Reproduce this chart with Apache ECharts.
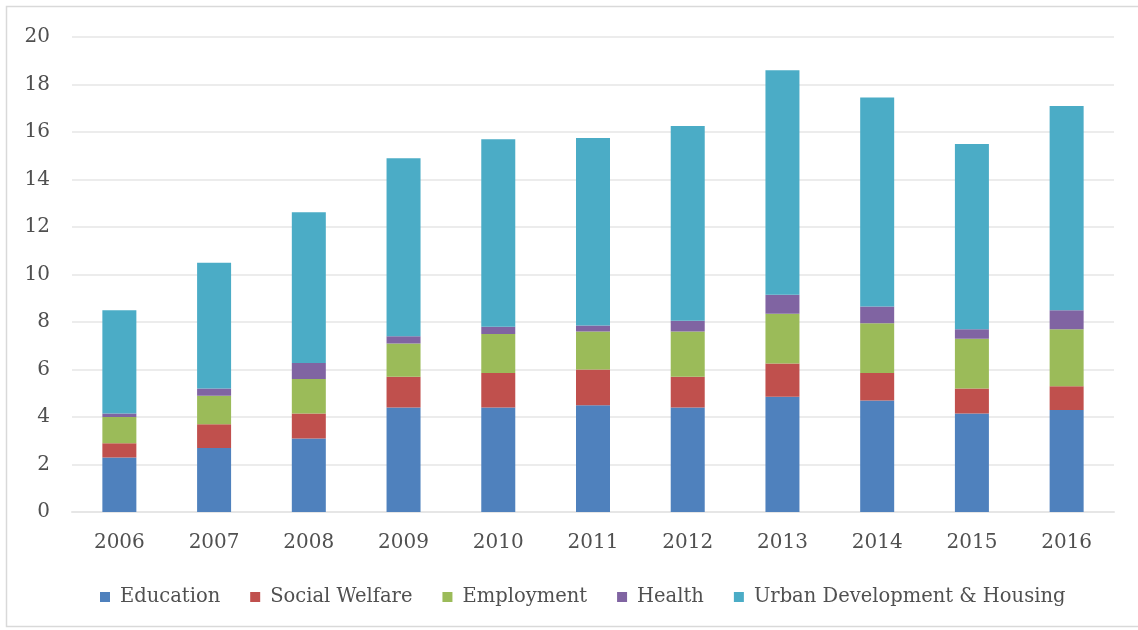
<!DOCTYPE html>
<html>
<head>
<meta charset="utf-8">
<script src="https://cdn.jsdelivr.net/npm/echarts@6/dist/echarts.min.js"></script>
<style>
  html, body { margin: 0; padding: 0; background: #ffffff; }
  #chart { width: 1138px; height: 630px; }
</style>
</head>
<body>
<div id="chart"></div>
<script>
// Spending by sector, 2006–2016 (stacked)
const years = ['2006', '2007', '2008', '2009', '2010', '2011', '2012', '2013', '2014', '2015', '2016'];
const education        = [2.3, 2.7, 3.1, 4.4, 4.4, 4.5, 4.4, 4.85, 4.7, 4.15, 4.3];
const socialWelfare    = [0.6, 1.0, 1.05, 1.3, 1.45, 1.5, 1.3, 1.4, 1.15, 1.05, 1.0];
const employment       = [1.1, 1.2, 1.45, 1.4, 1.65, 1.6, 1.9, 2.1, 2.1, 2.1, 2.4];
const health           = [0.15, 0.3, 0.67, 0.3, 0.3, 0.25, 0.45, 0.8, 0.7, 0.4, 0.8];
const urbanDevelopment = [4.35, 5.3, 6.35, 7.5, 7.9, 7.9, 8.2, 9.45, 8.8, 7.8, 8.6];

const seriesNames = ['Education', 'Social Welfare', 'Employment', 'Health', 'Urban Development & Housing'];
const seriesValues = [education, socialWelfare, employment, health, urbanDevelopment];
const colors = ['#4F81BD', '#C0504D', '#9BBB59', '#8064A2', '#4BACC6'];

const textColor = '#505050';
const fontFamily = '"DejaVu Serif", "Liberation Serif", serif';

const chart = echarts.init(document.getElementById('chart'), null, { renderer: 'canvas' });

chart.setOption({
  backgroundColor: '#ffffff',
  animation: false,
  color: colors,
  graphic: [{
    type: 'rect',
    shape: { x: 6.5, y: 6.5, width: 1160, height: 620 },
    style: { fill: 'none', stroke: '#d9d9d9', lineWidth: 1.5 },
    silent: true,
    z: -1
  }],
  grid: { left: 72, right: 24, top: 37, bottom: 118, containLabel: false },
  legend: {
    data: seriesNames,
    left: 95,
    top: 582,
    itemWidth: 10,
    itemHeight: 10,
    itemGap: 30,
    icon: 'rect',
    textStyle: { color: textColor, fontFamily: fontFamily, fontSize: 19.5, padding: [0, 0, 0, 5] }
  },
  xAxis: {
    type: 'category',
    data: years,
    axisLine: { show: true, lineStyle: { color: '#e6e6e6', width: 2 } },
    axisTick: { show: false },
    axisLabel: { color: textColor, fontFamily: fontFamily, fontSize: 20, margin: 21 }
  },
  yAxis: {
    type: 'value',
    min: 0,
    max: 20,
    interval: 2,
    axisLine: { show: false },
    axisTick: { show: false },
    splitLine: { lineStyle: { color: '#ececec', width: 2 } },
    axisLabel: { color: textColor, fontFamily: fontFamily, fontSize: 20, margin: 22 }
  },
  series: seriesNames.map((name, i) => ({
    name: name,
    type: 'bar',
    stack: 'total',
    barWidth: 34,
    data: seriesValues[i],
    itemStyle: { color: colors[i] }
  }))
});
</script>
</body>
</html>
